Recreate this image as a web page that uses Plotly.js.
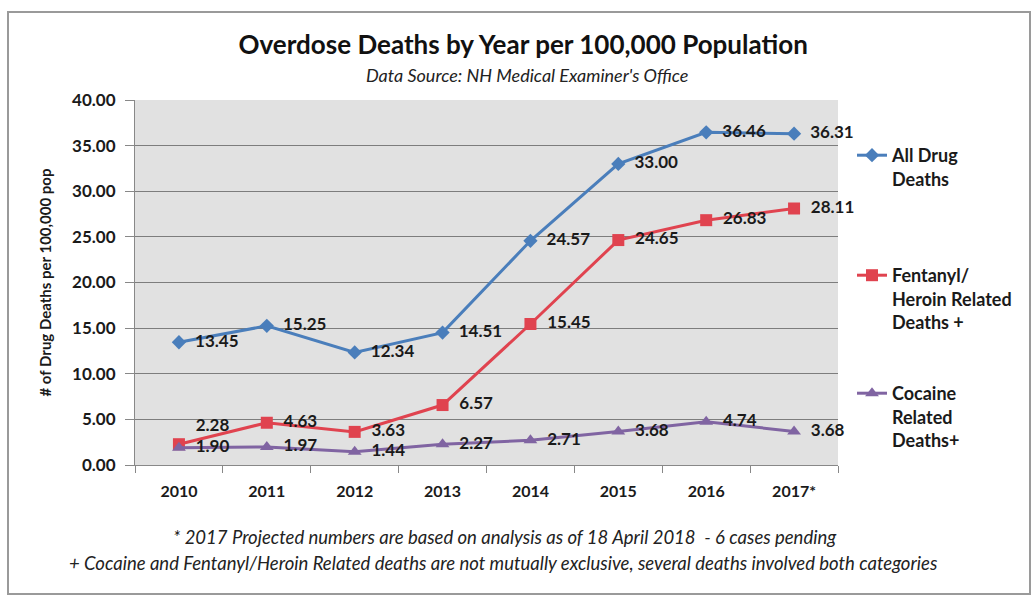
<!DOCTYPE html>
<html>
<head>
<meta charset="utf-8">
<script src="https://cdn.plot.ly/plotly-3.0.1.min.js"></script>
<style>html,body{margin:0;padding:0;background:#fff;}#chart{width:1036px;height:597px;}</style>
</head>
<body>
<div id="chart"></div>
<script>
const years = ["2010", "2011", "2012", "2013", "2014", "2015", "2016", "2017*"];
const allDrug = [13.45, 15.25, 12.34, 14.51, 24.57, 33.00, 36.46, 36.31];
const fentanyl = [2.28, 4.63, 3.63, 6.57, 15.45, 24.65, 26.83, 28.11];
const cocaine = [1.90, 1.97, 1.44, 2.27, 2.71, 3.68, 4.74, 3.68];
const yTicks = [0, 5, 10, 15, 20, 25, 30, 35, 40];
const seriesNames = ["All Drug<br>Deaths", "Fentanyl/<br>Heroin Related<br>Deaths +", "Cocaine<br>Related<br>Deaths+"];

const FONT = "Lato, 'Open Sans', sans-serif";
const W = 1036, H = 597;
const L = 135, R = 838, T = 100, B = 465;
const px = x => (x - L) / (R - L);
const py = y => (B - y) / (B - T);

function lbl(v) { return "  " + v.toFixed(2); }

const labelFont = {family: FONT, size: 17, color: "#1a1a1a", weight: "bold"};

const traces = [
  {
    x: years, y: allDrug, name: seriesNames[0], type: "scatter", mode: "lines+markers+text",
    line: {color: "#4a7ebb", width: 3},
    marker: {symbol: "diamond", size: 11, color: "#4a7ebb"},
    text: allDrug.map(lbl), textposition: "middle right", textfont: labelFont,
    legend: "legend", cliponaxis: false
  },
  {
    x: years, y: fentanyl, name: seriesNames[1], type: "scatter", mode: "lines+markers+text",
    line: {color: "#e0434f", width: 3},
    marker: {symbol: "square", size: 12, color: "#e0434f"},
    text: fentanyl.map(lbl), textposition: ["top right", "middle right", "middle right", "middle right", "middle right", "middle right", "middle right", "middle right"],
    textfont: labelFont, legend: "legend2", cliponaxis: false
  },
  {
    x: years, y: cocaine, name: seriesNames[2], type: "scatter", mode: "lines+markers+text",
    line: {color: "#8064a2", width: 3},
    marker: {symbol: "triangle-up", size: 12, color: "#8064a2"},
    text: cocaine.map(lbl), textposition: "middle right", textfont: labelFont,
    legend: "legend3", cliponaxis: false
  }
];

const legendBase = {
  xref: "paper", yref: "paper", xanchor: "left", yanchor: "top",
  bgcolor: "rgba(0,0,0,0)", valign: "top",
  font: {family: FONT, size: 18, color: "#1a1a1a", weight: "bold"},
  itemwidth: 30
};

const layout = {
  width: W, height: H,
  margin: {l: L, r: W - R, t: T, b: H - B, pad: 0},
  paper_bgcolor: "#ffffff",
  plot_bgcolor: "#e1e1e1",
  font: {family: FONT, color: "#1a1a1a"},
  title: {
    text: "<b>Overdose Deaths by Year per 100,000 Population</b>",
    font: {family: FONT, size: 26, color: "#111"},
    xref: "container", x: 0.505, xanchor: "center",
    yref: "container", y: 1 - 45 / H, yanchor: "middle"
  },
  xaxis: {
    type: "category", categoryorder: "array", categoryarray: years,
    tickson: "boundaries", ticks: "outside", ticklen: 7, tickcolor: "#888",
    ticklabelstandoff: 12,
    showline: true, linecolor: "#888", linewidth: 1,
    showgrid: false, zeroline: false,
    tickfont: {family: FONT, size: 16, color: "#1a1a1a", weight: "bold"},
    range: [-0.5, years.length - 0.5]
  },
  yaxis: {
    range: [0, 40], tickvals: yTicks, ticktext: yTicks.map(v => v.toFixed(2)),
    ticks: "outside", ticklen: 9, tickcolor: "#888",
    ticklabelstandoff: 6,
    showline: true, linecolor: "#888", linewidth: 1,
    showgrid: true, gridcolor: "#7d7d7d", gridwidth: 1, zeroline: false,
    tickfont: {family: FONT, size: 17, color: "#1a1a1a", weight: "bold"},
    title: {
      text: "<b># of Drug Deaths per 100,000 pop</b>",
      font: {family: FONT, size: 15, color: "#1a1a1a"},
      standoff: 16
    }
  },
  showlegend: true,
  legend: Object.assign({}, legendBase, {x: px(852), y: py(137)}),
  legend2: Object.assign({}, legendBase, {x: px(852), y: py(257)}),
  legend3: Object.assign({}, legendBase, {x: px(852), y: py(375)}),
  annotations: [
    {
      text: "<i>Data Source: NH Medical Examiner's Office</i>",
      xref: "paper", yref: "paper", x: px(527), y: py(75), xanchor: "center", yanchor: "middle",
      showarrow: false, font: {family: FONT, size: 18, color: "#222"}
    },
    {
      text: "<i>* 2017 Projected numbers are based on analysis as of 18 April 2018  - 6 cases pending</i>",
      xref: "paper", yref: "paper", x: px(505), y: py(537), xanchor: "center", yanchor: "middle",
      showarrow: false, font: {family: FONT, size: 18.5, color: "#222"}
    },
    {
      text: "<i>+ Cocaine and Fentanyl/Heroin Related deaths are not mutually exclusive, several deaths involved both categories</i>",
      xref: "paper", yref: "paper", x: px(503), y: py(563), xanchor: "center", yanchor: "middle",
      showarrow: false, font: {family: FONT, size: 18.5, color: "#222"}
    }
  ],
  shapes: [
    {
      type: "rect", xref: "paper", yref: "paper",
      x0: px(8), x1: px(1030), y0: py(594), y1: py(12),
      line: {color: "#9a9a9a", width: 2}, fillcolor: "rgba(0,0,0,0)", layer: "below"
    }
  ]
};

Plotly.newPlot("chart", traces, layout, {displayModeBar: false, staticPlot: true});
</script>
</body>
</html>
